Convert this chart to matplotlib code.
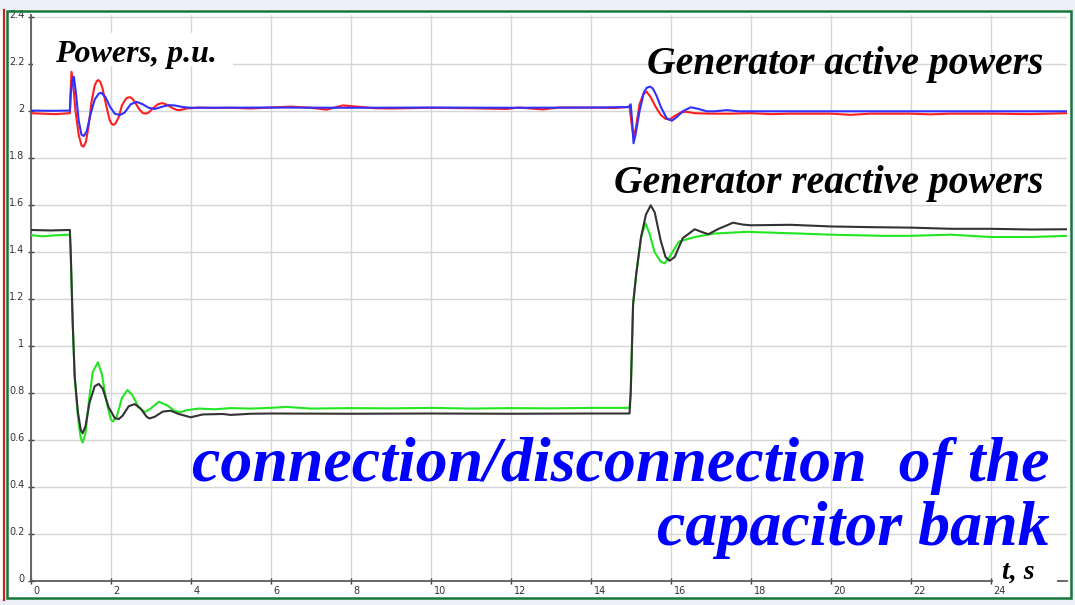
import matplotlib
matplotlib.use("Agg")
import matplotlib.pyplot as plt
from matplotlib.patches import Rectangle
from matplotlib.lines import Line2D
from matplotlib.transforms import ScaledTranslation

# ---------------- data ----------------
t_red = [0.0, 0.3, 0.6, 0.9, 0.98, 1.00, 1.02, 1.06, 1.12, 1.20, 1.27, 1.32, 1.38, 1.45, 1.52, 1.60,
         1.65, 1.69, 1.74, 1.80, 1.88, 1.97, 2.02, 2.07, 2.12, 2.20, 2.28, 2.38, 2.43, 2.48, 2.54,
         2.62, 2.70, 2.80, 2.88, 2.95, 3.05, 3.18, 3.29, 3.42, 3.55, 3.65, 3.73, 3.90, 4.2, 4.6,
         5.0, 5.5, 6.0, 6.5, 7.0, 7.4, 7.8, 8.3, 8.6, 9.0, 10.0, 11.0, 11.9, 12.2, 12.8, 13.2,
         14.0, 14.6, 14.9, 14.97, 15.02, 15.07, 15.13, 15.22, 15.32, 15.40, 15.50, 15.62, 15.75,
         15.87, 15.97, 16.10, 16.25, 16.40, 16.6, 17.0, 17.5, 18.0, 18.5, 19.0, 20.0, 20.5, 21.0,
         22.0, 22.5, 23.0, 24.0, 25.0, 25.9]
p_red = [1.992, 1.990, 1.988, 1.991, 1.992, 2.10, 2.168, 2.12, 2.00, 1.90, 1.855, 1.849, 1.870, 1.94,
         2.04, 2.11, 2.128, 2.133, 2.125, 2.095, 2.03, 1.965, 1.947, 1.942, 1.948, 1.975, 2.025,
         2.053, 2.059, 2.06, 2.054, 2.035, 2.012, 1.993, 1.99, 1.995, 2.012, 2.03, 2.035, 2.027,
         2.013, 2.006, 2.005, 2.012, 2.016, 2.014, 2.015, 2.012, 2.016, 2.02, 2.015, 2.007, 2.025,
         2.018, 2.013, 2.012, 2.015, 2.013, 2.010, 2.016, 2.008, 2.016, 2.016, 2.014, 2.018, 2.02,
         1.95, 1.89, 1.93, 2.03, 2.075, 2.083, 2.06, 2.02, 1.985, 1.968, 1.965, 1.98, 1.995, 1.998,
         1.992, 1.99, 1.99, 1.992, 1.988, 1.99, 1.99, 1.985, 1.99, 1.99, 1.987, 1.99, 1.99, 1.988,
         1.992]

t_blue = [0.0, 0.5, 0.98, 1.00, 1.05, 1.08, 1.13, 1.20, 1.27, 1.33, 1.40, 1.50, 1.60, 1.70, 1.77,
          1.87, 1.98, 2.10, 2.23, 2.35, 2.50, 2.65, 2.80, 2.95, 3.10, 3.30, 3.45, 3.60, 3.80, 4.0,
          6.0, 8.0, 10.0, 12.0, 14.0, 14.95, 15.00, 15.04, 15.07, 15.12, 15.22, 15.33, 15.40,
          15.48, 15.55, 15.65, 15.75, 15.90, 16.03, 16.15, 16.3, 16.5, 16.7, 16.9, 17.1, 17.4,
          17.7, 18.0, 20.0, 22.0, 24.0, 25.9]
p_blue = [2.003, 2.002, 2.003, 2.07, 2.14, 2.147, 2.08, 1.96, 1.90, 1.895, 1.915, 1.99, 2.05, 2.075,
          2.079, 2.06, 2.02, 1.99, 1.984, 1.995, 2.03, 2.04, 2.03, 2.015, 2.01, 2.02, 2.026, 2.025,
          2.018, 2.015, 2.016, 2.015, 2.016, 2.015, 2.016, 2.018, 2.03, 1.95, 1.864, 1.90, 2.00,
          2.08, 2.100, 2.105, 2.098, 2.065, 2.02, 1.97, 1.96, 1.975, 2.0, 2.017, 2.01, 2.0, 2.0,
          2.005, 2.0, 2.0, 2.0, 2.0, 2.0, 2.0]

t_black = [0.0, 0.5, 0.98, 1.00, 1.05, 1.10, 1.18, 1.25, 1.30, 1.37, 1.47, 1.60, 1.70, 1.80, 1.95,
           2.10, 2.20, 2.30, 2.45, 2.60, 2.75, 2.90, 2.97, 3.10, 3.30, 3.50, 3.70, 4.0, 4.3, 4.8,
           5.0, 5.5, 6.0, 8.0, 10.0, 12.0, 14.0, 14.97, 15.00, 15.06, 15.14, 15.26, 15.38, 15.50,
           15.60, 15.75, 15.87, 15.97, 16.10, 16.3, 16.6, 16.8, 16.94, 17.2, 17.56, 17.8, 18.0,
           19.0, 20.0, 21.0, 22.0, 23.0, 24.0, 25.0, 25.9]
q_black = [1.495, 1.493, 1.495, 1.40, 1.10, 0.87, 0.72, 0.645, 0.630, 0.66, 0.76, 0.83, 0.84, 0.82,
           0.74, 0.695, 0.69, 0.705, 0.745, 0.754, 0.735, 0.70, 0.693, 0.70, 0.722, 0.726, 0.712,
           0.698, 0.71, 0.712, 0.708, 0.713, 0.714, 0.713, 0.714, 0.713, 0.714, 0.714, 0.80, 1.18,
           1.31, 1.466, 1.56, 1.60, 1.57, 1.45, 1.38, 1.364, 1.38, 1.46, 1.498, 1.485, 1.477, 1.50,
           1.526, 1.518, 1.515, 1.517, 1.51, 1.507, 1.505, 1.50, 1.50, 1.497, 1.498]

t_green = [0.0, 0.3, 0.6, 0.98, 1.00, 1.05, 1.10, 1.18, 1.25, 1.30, 1.37, 1.45, 1.55, 1.68, 1.78,
           1.90, 2.00, 2.05, 2.15, 2.28, 2.42, 2.55, 2.70, 2.85, 3.00, 3.20, 3.40, 3.60, 3.75, 3.90,
           4.2, 4.6, 5.0, 5.5, 6.0, 6.4, 7.0, 8.0, 9.0, 10.0, 11.0, 12.0, 13.0, 14.0, 14.97, 15.00,
           15.06, 15.14, 15.26, 15.37, 15.47, 15.60, 15.75, 15.85, 15.97, 16.2, 16.6, 17.1, 17.9,
           19.2, 20.0, 21.3, 22.0, 23.0, 24.0, 25.0, 25.9]
q_green = [1.473, 1.468, 1.472, 1.475, 1.40, 1.10, 0.87, 0.70, 0.61, 0.590, 0.63, 0.76, 0.89, 0.932,
           0.88, 0.76, 0.69, 0.68, 0.70, 0.78, 0.814, 0.79, 0.74, 0.72, 0.735, 0.764, 0.75, 0.725,
           0.72, 0.728, 0.735, 0.732, 0.737, 0.735, 0.738, 0.742, 0.735, 0.737, 0.736, 0.738,
           0.735, 0.737, 0.736, 0.738, 0.738, 0.80, 1.18, 1.31, 1.466, 1.523, 1.48, 1.40, 1.36,
           1.353, 1.38, 1.445, 1.465, 1.48, 1.487, 1.48, 1.475, 1.47, 1.47, 1.475, 1.465, 1.465,
           1.47]

x_ticks = [0, 2, 4, 6, 8, 10, 12, 14, 16, 18, 20, 22, 24]
y_ticks = [0, 0.2, 0.4, 0.6, 0.8, 1.0, 1.2, 1.4, 1.6, 1.8, 2.0, 2.2, 2.4]
y_tick_labels = ["0", "0.2", "0.4", "0.6", "0.8", "1", "1.2", "1.4", "1.6", "1.8", "2", "2.2", "2.4"]

# ---------------- figure ----------------
W, H = 1075, 605
fig = plt.figure(figsize=(W / 100, H / 100), dpi=100, facecolor="white")

def fx(px):
    return px / W

def fy(py):
    return 1 - py / H

ax_l, ax_r, ax_b, ax_t = 30.7, 1067, 581.3, 15
ax = fig.add_axes([fx(ax_l), fy(ax_b), fx(ax_r - ax_l), (ax_b - ax_t) / H])
ax.set_xlim(0, (ax_r - ax_l) / 40.0)
ax.set_ylim(0, (ax_b - ax_t) / 235.0)
ax.set_facecolor("white")

for s in ["top", "right"]:
    ax.spines[s].set_visible(False)
for s in ["left", "bottom"]:
    ax.spines[s].set_color("#5a5a5a")
    ax.spines[s].set_linewidth(1.3)

ax.set_xticks(x_ticks)
ax.set_xticklabels([str(v) for v in x_ticks])
ax.set_yticks(y_ticks)
ax.set_yticklabels(y_tick_labels)
ax.tick_params(axis="both", direction="inout", length=5, width=1.0, color="#444444",
               labelsize=7, labelcolor="#333333")
ax.tick_params(axis="x", pad=1)
ax.tick_params(axis="y", pad=2)
for lab in ax.get_xticklabels():
    lab.set_horizontalalignment("left")
    lab.set_transform(lab.get_transform() + ScaledTranslation(0.03, 0, fig.dpi_scale_trans))
for lab in ax.get_yticklabels():
    lab.set_transform(lab.get_transform() + ScaledTranslation(0, 0.03, fig.dpi_scale_trans))

ax.grid(True, color="#d6d6d6", linewidth=1.0)
ax.set_axisbelow(True)

lw = 1.5
ax.plot(t_green, q_green, color="#22e622", lw=lw, zorder=3)
ax.plot(t_black, q_black, color="#333333", lw=lw, zorder=4)
ax.plot(t_red, p_red, color="#ff1f1f", lw=lw, zorder=3)
ax.plot(t_blue, p_blue, color="#3030ff", lw=lw, zorder=4)

# white box behind the "Powers, p.u." caption
ax.add_patch(Rectangle((fx(33), fy(66)), fx(200), (66 - 33) / H, transform=fig.transFigure,
                       facecolor="white", edgecolor="none", zorder=5, clip_on=False))
# white gap in the x axis behind "t, s"
ax.add_patch(Rectangle((fx(993), fy(585)), fx(64), 8 / H, transform=fig.transFigure,
                       facecolor="white", edgecolor="none", zorder=5, clip_on=False))

serif = "Liberation Serif"
ax.text(fx(55), fy(62), "Powers, p.u.", transform=fig.transFigure, fontfamily=serif,
        fontsize=23, fontweight="bold", fontstyle="italic", color="black", va="baseline",
        ha="left", zorder=6)
ax.text(fx(1043), fy(74), "Generator active powers", transform=fig.transFigure, fontfamily=serif,
        fontsize=28.5, fontweight="bold", fontstyle="italic", color="black", va="baseline",
        ha="right", zorder=6)
ax.text(fx(1043), fy(193), "Generator reactive powers", transform=fig.transFigure, fontfamily=serif,
        fontsize=28.5, fontweight="bold", fontstyle="italic", color="black", va="baseline",
        ha="right", zorder=6)
ax.text(fx(1050), fy(481), "connection/disconnection  of the", transform=fig.transFigure,
        fontfamily=serif, fontsize=46, fontweight="bold", fontstyle="italic", color="#0000ff",
        va="baseline", ha="right", zorder=6)
ax.text(fx(1050), fy(545), "capacitor bank", transform=fig.transFigure,
        fontfamily=serif, fontsize=46, fontweight="bold", fontstyle="italic", color="#0000ff",
        va="baseline", ha="right", zorder=6)
ax.text(fx(1034), fy(579), "t, s", transform=fig.transFigure, fontfamily=serif,
        fontsize=20, fontweight="bold", fontstyle="italic", color="black", va="baseline",
        ha="right", zorder=6)

# frame decorations
bg = "#eef0f9"
fig.add_artist(Rectangle((0, fy(10)), 1, 10 / H, transform=fig.transFigure,
                         facecolor=bg, edgecolor="none", zorder=20))
fig.add_artist(Rectangle((0, 0), 1, 6 / H, transform=fig.transFigure,
                         facecolor=bg, edgecolor="none", zorder=20))
fig.add_artist(Rectangle((fx(1072), 0), 3 / W, 1, transform=fig.transFigure,
                         facecolor=bg, edgecolor="none", zorder=20))
fig.add_artist(Rectangle((fx(6.5), fy(598)), fx(1064), (598 - 11) / H, transform=fig.transFigure,
                         facecolor="none", edgecolor="#15773a", linewidth=1.8, zorder=21))
fig.add_artist(Line2D([fx(4.2), fx(4.2)], [fy(600), fy(10)], transform=fig.transFigure,
                      color="#cc2020", linewidth=1.6, zorder=21))

fig.savefig("out.png", dpi=100, facecolor="white")
